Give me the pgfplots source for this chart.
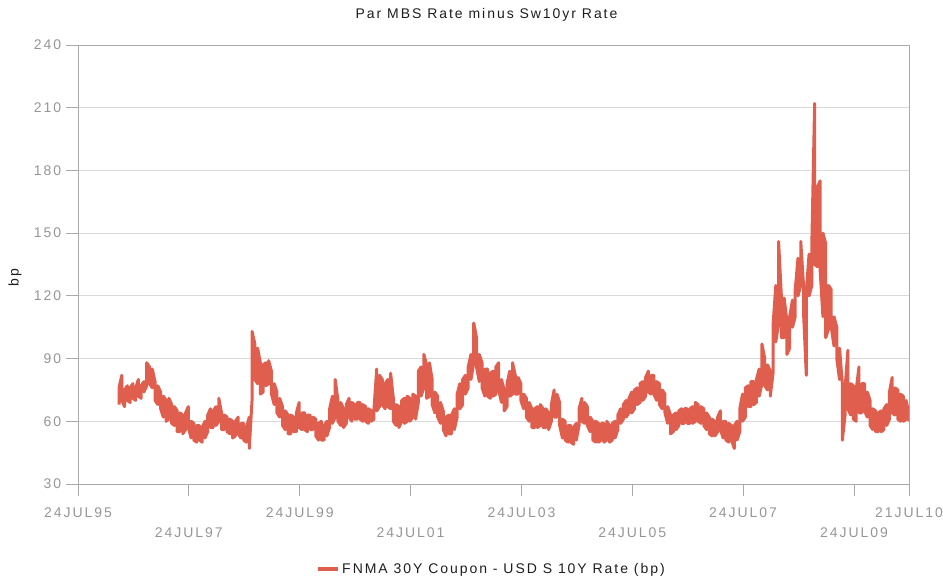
\documentclass[border=0pt]{standalone}
\usepackage{pgfplots}
\pgfplotsset{compat=1.18}
\usepackage{fontspec}
\setmainfont{Liberation Sans}[LetterSpace=14]
\definecolor{lineC}{RGB}{224,94,78}
\definecolor{axisC}{RGB}{170,170,170}
\definecolor{gridC}{RGB}{218,218,218}
\definecolor{tickC}{RGB}{150,150,150}
\definecolor{titleC}{RGB}{30,30,30}
\pgfplotstableread{
t v
1996.30 68
1996.30 76
1996.35 82
1996.35 70
1996.40 67
1996.40 75
1996.45 77
1996.45 70
1996.50 69
1996.50 76
1996.55 78
1996.55 71
1996.60 70
1996.60 76
1996.65 80
1996.65 72
1996.70 71
1996.70 77
1996.75 79
1996.75 74
1996.80 77
1996.80 88
1996.85 86
1996.85 78
1996.90 76
1996.90 85
1996.95 79
1996.95 70
1997.00 68
1997.00 77
1997.05 74
1997.05 66
1997.10 62
1997.10 72
1997.15 70
1997.15 60
1997.20 61
1997.20 71
1997.25 68
1997.25 59
1997.30 58
1997.30 67
1997.35 65
1997.35 55
1997.40 55
1997.40 64
1997.45 63
1997.45 54
1997.50 56
1997.50 64
1997.55 67
1997.55 57
1997.60 52
1997.60 60
1997.65 59
1997.65 51
1997.70 50
1997.70 58
1997.75 58
1997.75 51
1997.80 50
1997.80 57
1997.85 60
1997.85 52
1997.90 55
1997.90 63
1997.95 66
1997.95 57
1998.00 57
1998.00 65
1998.05 67
1998.05 58
1998.10 60
1998.10 71
1998.15 64
1998.15 56
1998.20 56
1998.20 63
1998.25 62
1998.25 55
1998.30 54
1998.30 61
1998.35 60
1998.35 52
1998.40 53
1998.40 60
1998.45 62
1998.45 54
1998.50 52
1998.50 59
1998.55 59
1998.55 51
1998.60 50
1998.60 57
1998.65 62
1998.65 47
1998.70 70
1998.70 103
1998.75 97
1998.75 80
1998.80 78
1998.80 95
1998.85 88
1998.85 73
1998.90 74
1998.90 87
1998.95 88
1998.95 77
1999.00 78
1999.00 89
1999.05 84
1999.05 73
1999.10 68
1999.10 78
1999.15 74
1999.15 64
1999.20 62
1999.20 71
1999.25 67
1999.25 58
1999.30 56
1999.30 65
1999.35 63
1999.35 54
1999.40 54
1999.40 63
1999.45 62
1999.45 55
1999.50 55
1999.50 64
1999.55 69
1999.55 57
1999.60 56
1999.60 64
1999.65 64
1999.65 56
1999.70 55
1999.70 63
1999.75 63
1999.75 56
1999.80 56
1999.80 62
1999.85 61
1999.85 53
1999.90 51
1999.90 59
1999.95 60
1999.95 51
2000.00 51
2000.00 58
2000.05 60
2000.05 53
2000.10 57
2000.10 66
2000.15 72
2000.15 59
2000.20 62
2000.20 80
2000.25 70
2000.25 60
2000.30 58
2000.30 69
2000.35 66
2000.35 57
2000.40 59
2000.40 68
2000.45 71
2000.45 62
2000.50 60
2000.50 69
2000.55 68
2000.55 61
2000.60 61
2000.60 69
2000.65 69
2000.65 61
2000.70 60
2000.70 68
2000.75 67
2000.75 60
2000.80 59
2000.80 66
2000.85 65
2000.85 60
2000.90 61
2000.90 66
2000.95 85
2000.95 65
2001.00 67
2001.00 82
2001.05 80
2001.05 68
2001.10 66
2001.10 78
2001.15 80
2001.15 67
2001.20 66
2001.20 83
2001.25 71
2001.25 60
2001.30 58
2001.30 68
2001.35 67
2001.35 57
2001.40 60
2001.40 70
2001.45 71
2001.45 59
2001.50 60
2001.50 72
2001.55 71
2001.55 60
2001.60 62
2001.60 73
2001.65 72
2001.65 61
2001.70 69
2001.70 84
2001.75 86
2001.75 72
2001.80 76
2001.80 92
2001.85 87
2001.85 71
2001.90 72
2001.90 88
2001.95 80
2001.95 68
2002.00 64
2002.00 74
2002.05 72
2002.05 62
2002.10 59
2002.10 69
2002.15 65
2002.15 56
2002.20 53
2002.20 62
2002.25 63
2002.25 54
2002.30 54
2002.30 63
2002.35 66
2002.35 56
2002.40 62
2002.40 73
2002.45 78
2002.45 66
2002.50 68
2002.50 80
2002.55 82
2002.55 73
2002.60 76
2002.60 86
2002.65 92
2002.65 80
2002.70 88
2002.70 107
2002.75 100
2002.75 86
2002.80 79
2002.80 92
2002.85 88
2002.85 76
2002.90 72
2002.90 85
2002.95 85
2002.95 72
2003.00 71
2003.00 83
2003.05 84
2003.05 72
2003.10 73
2003.10 86
2003.15 88
2003.15 75
2003.20 69
2003.20 80
2003.25 75
2003.25 65
2003.30 67
2003.30 78
2003.35 84
2003.35 72
2003.40 73
2003.40 88
2003.45 82
2003.45 73
2003.50 73
2003.50 81
2003.55 78
2003.55 70
2003.60 66
2003.60 73
2003.65 71
2003.65 62
2003.70 60
2003.70 69
2003.75 66
2003.75 57
2003.80 57
2003.80 66
2003.85 67
2003.85 57
2003.90 58
2003.90 68
2003.95 66
2003.95 57
2004.00 57
2004.00 66
2004.05 64
2004.05 56
2004.10 60
2004.10 68
2004.15 75
2004.15 62
2004.20 62
2004.20 73
2004.25 69
2004.25 58
2004.30 52
2004.30 61
2004.35 60
2004.35 51
2004.40 50
2004.40 58
2004.45 58
2004.45 50
2004.50 49
2004.50 57
2004.55 59
2004.55 51
2004.60 58
2004.60 66
2004.65 71
2004.65 60
2004.70 59
2004.70 69
2004.75 67
2004.75 58
2004.80 55
2004.80 62
2004.85 60
2004.85 51
2004.90 50
2004.90 60
2004.95 59
2004.95 50
2005.00 51
2005.00 59
2005.05 59
2005.05 50
2005.10 51
2005.10 60
2005.15 58
2005.15 50
2005.20 51
2005.20 59
2005.25 60
2005.25 52
2005.30 56
2005.30 63
2005.35 66
2005.35 59
2005.40 61
2005.40 68
2005.45 70
2005.45 62
2005.50 64
2005.50 71
2005.55 74
2005.55 64
2005.60 66
2005.60 75
2005.65 76
2005.65 68
2005.70 69
2005.70 78
2005.75 79
2005.75 70
2005.80 72
2005.80 81
2005.85 84
2005.85 74
2005.90 73
2005.90 82
2005.95 82
2005.95 73
2006.00 70
2006.00 79
2006.05 78
2006.05 68
2006.10 66
2006.10 75
2006.15 73
2006.15 64
2006.20 59
2006.20 67
2006.25 63
2006.25 54
2006.30 55
2006.30 63
2006.35 64
2006.35 56
2006.40 58
2006.40 65
2006.45 66
2006.45 59
2006.50 59
2006.50 66
2006.55 66
2006.55 59
2006.60 59
2006.60 66
2006.65 67
2006.65 59
2006.70 60
2006.70 69
2006.75 68
2006.75 60
2006.80 59
2006.80 67
2006.85 66
2006.85 58
2006.90 56
2006.90 64
2006.95 62
2006.95 54
2007.00 53
2007.00 61
2007.05 60
2007.05 53
2007.10 55
2007.10 62
2007.15 65
2007.15 56
2007.20 52
2007.20 60
2007.25 60
2007.25 51
2007.30 50
2007.30 59
2007.35 58
2007.35 51
2007.40 47
2007.40 58
2007.45 60
2007.45 51
2007.50 55
2007.50 66
2007.55 73
2007.55 60
2007.60 62
2007.60 76
2007.65 77
2007.65 67
2007.70 67
2007.70 79
2007.75 79
2007.75 68
2007.80 69
2007.80 80
2007.85 85
2007.85 72
2007.90 78
2007.90 97
2007.95 90
2007.95 77
2008.00 75
2008.00 87
2008.05 84
2008.05 72
2008.10 83
2008.10 106
2008.15 125
2008.15 98
2008.20 107
2008.20 146
2008.25 120
2008.25 100
2008.30 100
2008.30 119
2008.35 108
2008.35 92
2008.40 95
2008.40 110
2008.45 118
2008.45 105
2008.50 110
2008.50 123
2008.55 138
2008.55 120
2008.60 125
2008.60 146
2008.65 125
2008.65 112
2008.70 82
2008.70 122
2008.75 140
2008.75 120
2008.80 125
2008.80 145
2008.85 212
2008.85 135
2008.90 134
2008.90 172
2008.95 175
2008.95 132
2009.00 110
2009.00 150
2009.05 145
2009.05 100
2009.10 104
2009.10 125
2009.15 123
2009.15 105
2009.20 96
2009.20 110
2009.25 105
2009.25 90
2009.30 80
2009.30 95
2009.35 78
2009.35 51
2009.40 63
2009.40 76
2009.45 94
2009.45 66
2009.50 63
2009.50 78
2009.55 77
2009.55 61
2009.60 60
2009.60 75
2009.65 86
2009.65 64
2009.70 64
2009.70 78
2009.75 78
2009.75 65
2009.80 62
2009.80 74
2009.85 70
2009.85 58
2009.90 56
2009.90 66
2009.95 65
2009.95 55
2010.00 55
2010.00 64
2010.05 65
2010.05 55
2010.10 56
2010.10 66
2010.15 68
2010.15 58
2010.20 61
2010.20 74
2010.25 81
2010.25 64
2010.30 63
2010.30 76
2010.35 75
2010.35 61
2010.40 60
2010.40 73
2010.45 72
2010.45 60
2010.50 61
2010.50 70
2010.55 64
2010.55 60
}\spread
\begin{document}
\fontsize{14bp}{16bp}\selectfont
\begin{tikzpicture}
\useasboundingbox (0,0) rectangle (943bp,580bp);
\begin{axis}[
  at={(78bp,96bp)}, anchor=south west,
  scale only axis, width=831bp, height=439bp,
  xmin=1995.56, xmax=2010.553, ymin=30, ymax=240,
  ytick={30,60,...,240},
  xtick={1995.56,1999.56,2003.56,2007.56,2010.553},
  xticklabels={24JUL95,24JUL99,24JUL03,24JUL07,21JUL10},
  extra x ticks={1997.56,2001.56,2005.56,2009.56},
  extra x tick labels={24JUL97,24JUL01,24JUL05,24JUL09},
  xticklabel style={yshift=-7bp},
  extra x tick style={grid=none, xticklabel style={yshift=-20bp}},
  ymajorgrids, grid style={gridC, line width=0.8bp},
  axis line style={axisC, line width=0.9bp},
  tick style={axisC, line width=0.9bp},
  tick align=outside, major tick length=12bp,
  xtick pos=left, ytick pos=left,
  ticklabel style={text=tickC, font=\fontsize{14bp}{16bp}\selectfont},
  /pgf/number format/assume math mode=true,
  legend style={at={(0.4976,0)}, anchor=center, yshift=-85bp, draw=none, fill=none,
    font=\fontsize{14bp}{16bp}\selectfont, text=titleC},
  legend image code/.code={\draw[lineC, line width=4bp] (0bp,0bp) -- (20bp,0bp);},
  clip mode=individual,
]
\addplot[lineC, line width=3bp, line join=round] table[x=t, y=v] {\spread};
\addlegendentry{FNMA 30Y Coupon - USD S 10Y Rate (bp)}
\node[text=titleC, font=\fontsize{14bp}{16bp}\selectfont] at (rel axis cs:0.4916,1) [yshift=30bp] {Par MBS Rate minus Sw10yr Rate};
\node[text=titleC, rotate=90, font=\fontsize{14bp}{16bp}\selectfont] at ([xshift=-63bp]rel axis cs:0,0.47) {bp};
\end{axis}
\end{tikzpicture}
\end{document}
